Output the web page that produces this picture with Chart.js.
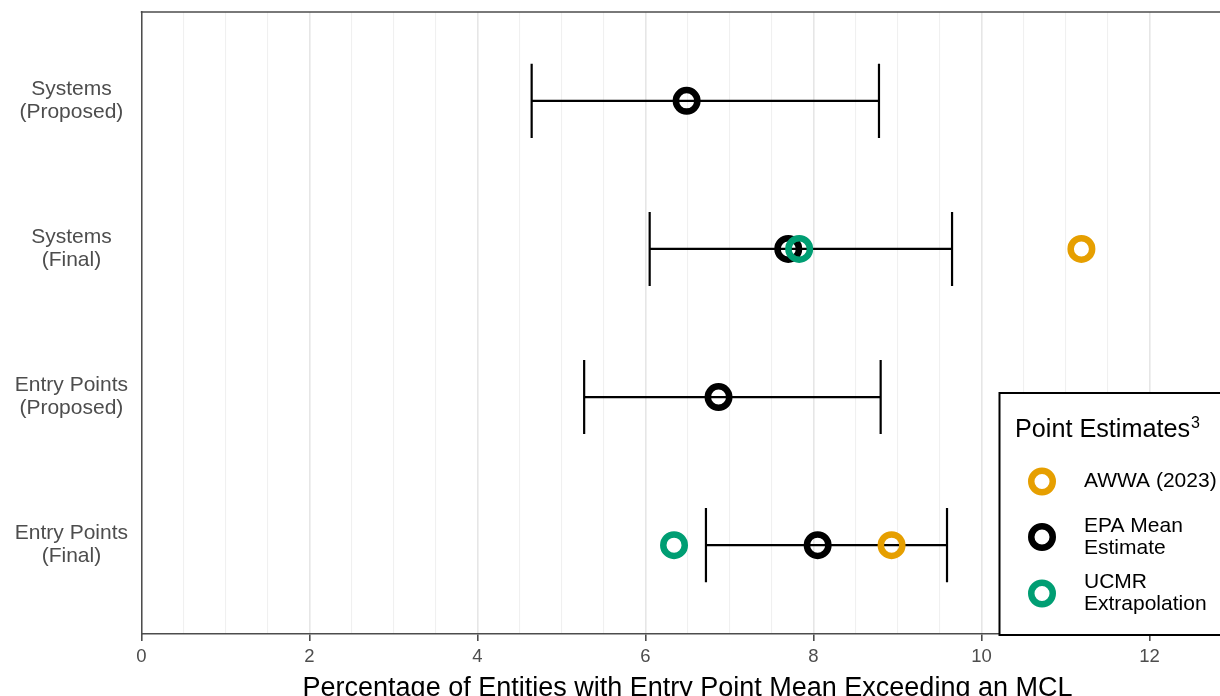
<!DOCTYPE html>
<html>
<head>
<meta charset="utf-8">
<script src="https://cdn.jsdelivr.net/npm/chart.js@4.4.1/dist/chart.umd.min.js"></script>
<style>
  html, body { margin: 0; padding: 0; background: #ffffff; }
  #wrap { width: 1220px; height: 696px; position: relative; }
</style>
</head>
<body>
<div id="wrap"><canvas id="chart" width="1220" height="696"></canvas></div>
<script>
// ---- data ----
const categories = [
  ['Systems', '(Proposed)'],
  ['Systems', '(Final)'],
  ['Entry Points', '(Proposed)'],
  ['Entry Points', '(Final)']
];
const intervalLow  = [4.645, 6.05, 5.27, 6.72];
const intervalHigh = [8.78, 9.65, 8.80, 9.59];
const epaMean           = [6.49, 7.70, 6.87, 8.05];
const ucmrExtrapolation = [null, 7.83, null, 6.34];
const awwa2023          = [null, 11.19, null, 8.93];
const xTickLabels = [0, 2, 4, 6, 8, 10, 12];
const awwaName = ['AWWA (2023)'];
const epaName  = ['EPA Mean', 'Estimate'];
const ucmrName = ['UCMR', 'Extrapolation'];
const legendTitle = 'Point Estimates';
const legendTitleSup = '3';
const xAxisTitle = 'Percentage of Entities with Entry Point Mean Exceeding an MCL';

// ---- derived datasets ----
const FONT = "'Liberation Sans', Arial, sans-serif";
const CAP_HALF = 0.25;
const rowOf = i => i + 1;

function pointsFor(values) {
  const out = [];
  values.forEach((v, i) => { if (v !== null) out.push({ x: v, y: rowOf(i) }); });
  return out;
}

const intervalSegments = [];
const capSegments = [];
categories.forEach((_, i) => {
  intervalSegments.push({ x: intervalLow[i], y: rowOf(i) }, { x: intervalHigh[i], y: rowOf(i) }, { x: NaN, y: null });
  [intervalLow[i], intervalHigh[i]].forEach(v => {
    capSegments.push({ x: v, y: rowOf(i) - CAP_HALF }, { x: v, y: rowOf(i) + CAP_HALF }, { x: NaN, y: null });
  });
});

const ringStyle = color => ({
  type: 'scatter',
  pointStyle: 'circle',
  pointRadius: 10.75,
  pointHoverRadius: 10.75,
  pointBorderWidth: 6.5,
  pointHoverBorderWidth: 6.5,
  pointBorderColor: color,
  pointBackgroundColor: 'rgba(0,0,0,0)',
  borderColor: color,
  backgroundColor: 'rgba(0,0,0,0)',
  showLine: false
});

const lineStyle = {
  type: 'line',
  borderColor: '#000000',
  borderWidth: 2.2,
  pointRadius: 0,
  pointHoverRadius: 0,
  spanGaps: false,
  tension: 0,
  fill: false
};

const datasets = [
  Object.assign({ label: ucmrName.join(' '), legendLines: ucmrName, legendRank: 2, order: 0, data: pointsFor(ucmrExtrapolation) }, ringStyle('#009E73')),
  Object.assign({ label: epaName.join(' '), legendLines: epaName, legendRank: 1, order: 1, data: pointsFor(epaMean) }, ringStyle('#000000')),
  Object.assign({ label: awwaName.join(' '), legendLines: awwaName, legendRank: 0, order: 2, data: pointsFor(awwa2023) }, ringStyle('#E69F00')),
  Object.assign({ label: 'interval', order: 3, data: intervalSegments }, lineStyle),
  Object.assign({ label: 'caps', order: 3, data: capSegments }, lineStyle)
];

// ---- helpers for the x grid ----
const isHalfStep = v => Math.abs(v * 2 - Math.round(v * 2)) < 1e-9;
const isMajor = v => xTickLabels.some(t => Math.abs(t - v) < 1e-9);

// ---- panel frame, legend and x title ----
const decorations = {
  id: 'decorations',
  afterDraw(chart) {
    const { ctx, chartArea } = chart;
    ctx.save();

    // top edge of the panel
    ctx.strokeStyle = '#4d4d4d';
    ctx.lineWidth = 1.5;
    ctx.beginPath();
    ctx.moveTo(chartArea.left - 0.75, chartArea.top);
    ctx.lineTo(chartArea.right, chartArea.top);
    ctx.stroke();

    // legend box
    const bx = 999.5, by = 393, bw = 260, bh = 242;
    ctx.fillStyle = '#ffffff';
    ctx.fillRect(bx, by, bw, bh);
    ctx.strokeStyle = '#000000';
    ctx.lineWidth = 2;
    ctx.strokeRect(bx, by, bw, bh);

    // legend title with superscript
    ctx.fillStyle = '#000000';
    ctx.textBaseline = 'alphabetic';
    ctx.textAlign = 'left';
    ctx.font = `25.2px ${FONT}`;
    ctx.fillText(legendTitle, 1015, 437);
    const tw = ctx.measureText(legendTitle).width;
    ctx.font = `16px ${FONT}`;
    ctx.fillText(legendTitleSup, 1015 + tw + 1, 428);

    // legend entries
    const entries = chart.data.datasets
      .filter(d => d.legendLines)
      .sort((a, b) => a.legendRank - b.legendRank);
    const rowY = [481.5, 537, 593.5];
    entries.forEach((d, k) => {
      const cy = rowY[k];
      ctx.beginPath();
      ctx.strokeStyle = d.pointBorderColor;
      ctx.lineWidth = d.pointBorderWidth;
      ctx.arc(1042, cy, d.pointRadius, 0, Math.PI * 2);
      ctx.stroke();
      ctx.fillStyle = '#000000';
      ctx.font = `21px ${FONT}`;
      ctx.textBaseline = 'middle';
      const lh = 22;
      const n = d.legendLines.length;
      d.legendLines.forEach((line, j) => {
        ctx.fillText(line, 1084, cy + (j - (n - 1) / 2) * lh);
      });
    });

    // x axis title, centred on the full panel width
    ctx.fillStyle = '#000000';
    ctx.font = `27px ${FONT}`;
    ctx.textAlign = 'center';
    ctx.textBaseline = 'alphabetic';
    ctx.fillText(xAxisTitle, 687.5, 695.5);

    ctx.restore();
  }
};

new Chart(document.getElementById('chart'), {
  type: 'scatter',
  data: { datasets },
  options: {
    responsive: false,
    animation: false,
    devicePixelRatio: 1,
    layout: { autoPadding: false, padding: { top: 12, left: 0, right: 0, bottom: 0 } },
    plugins: {
      legend: { display: false },
      tooltip: { enabled: false },
      title: { display: false }
    },
    scales: {
      x: {
        type: 'linear',
        position: 'bottom',
        min: 0,
        max: 12.84,
        afterFit: s => {
          s.height = 62;
          s.paddingLeft = 0; s.paddingRight = 0; s.paddingTop = 0; s.paddingBottom = 0;
        },
        ticks: {
          stepSize: 0.5,
          autoSkip: false,
          maxRotation: 0,
          padding: 5,
          color: '#4d4d4d',
          font: { family: FONT, size: 18.5 },
          callback: v => (isMajor(v) ? String(v) : '')
        },
        grid: {
          drawOnChartArea: true,
          tickLength: 7,
          color: c => {
            if (!c.tick || !isHalfStep(c.tick.value)) return 'rgba(0,0,0,0)';
            return isMajor(c.tick.value) ? '#e6e6e6' : '#f0f0f0';
          },
          lineWidth: c => (c.tick && isMajor(c.tick.value) ? 1.6 : 1.1),
          tickColor: c => (c.tick && isMajor(c.tick.value) ? '#4d4d4d' : 'rgba(0,0,0,0)'),
          tickWidth: 1.6
        },
        border: { display: true, color: '#4d4d4d', width: 1.5 }
      },
      y: {
        type: 'linear',
        min: 0.4,
        max: 4.6,
        reverse: true,
        afterFit: s => {
          s.width = 141.5;
          s.paddingLeft = 0; s.paddingRight = 0; s.paddingTop = 0; s.paddingBottom = 0;
        },
        afterBuildTicks: s => { s.ticks = categories.map((_, i) => ({ value: rowOf(i) })); },
        ticks: {
          autoSkip: false,
          crossAlign: 'center',
          padding: 13.5,
          color: '#4d4d4d',
          font: { family: FONT, size: 21, lineHeight: 1.1 },
          callback: v => categories[Math.round(v) - 1]
        },
        grid: { display: false, drawTicks: false },
        border: { display: true, color: '#4d4d4d', width: 1.5 }
      }
    }
  },
  plugins: [decorations]
});
</script>
</body>
</html>
